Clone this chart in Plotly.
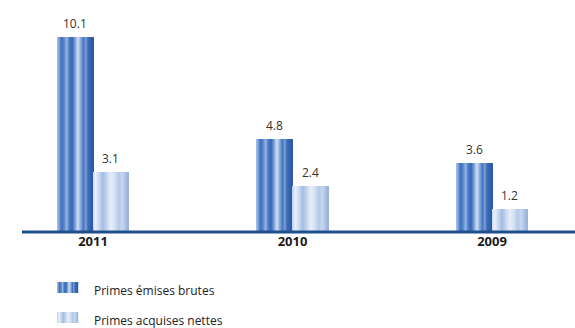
import plotly.graph_objects as go

# Data
years = ["2011", "2010", "2009"]
primes_emises_brutes = [10.1, 4.8, 3.6]
primes_acquises_nettes = [3.1, 2.4, 1.2]
series_names = ["Primes émises brutes", "Primes acquises nettes"]

# Horizontal colour profiles (position across bar, colour) for the fluted bars
dark_profile = [(0.00, "#a9c3e9"), (0.06, "#7fa3da"), (0.12, "#3d6fbe"), (0.20, "#5b88cb"),
                (0.27, "#98b6e2"), (0.34, "#4a7cc6"), (0.42, "#3566b6"), (0.50, "#7c9fd6"),
                (0.58, "#d2e0f4"), (0.66, "#86a8db"), (0.74, "#4575c0"), (0.80, "#7ea1d6"),
                (0.86, "#3d6cb9"), (1.00, "#2a58a6")]
light_profile = [(0.00, "#bccfec"), (0.10, "#e9f0fa"), (0.20, "#c9d8f0"), (0.30, "#a3bce3"),
                 (0.40, "#c2d4ee"), (0.52, "#e6eef9"), (0.64, "#d3e0f3"), (0.74, "#b5c9e8"),
                 (0.84, "#c8d7ef"), (1.00, "#98b1da")]


def _rgb(h):
    h = h.lstrip("#")
    return [int(h[i:i + 2], 16) for i in (0, 2, 4)]


def sample(profile, t):
    for (p0, c0), (p1, c1) in zip(profile, profile[1:]):
        if p0 <= t <= p1:
            f = (t - p0) / (p1 - p0) if p1 > p0 else 0
            a, b = _rgb(c0), _rgb(c1)
            return "rgb({},{},{})".format(*[round(x + (y - x) * f) for x, y in zip(a, b)])
    return profile[-1][1]


FONT = "Open Sans"
xpos = list(range(len(years)))
bar_w = 0.178                      # width of each series' bar in category units
N_STRIPES = 36
stripe_w = bar_w / N_STRIPES
PX_PER_UNIT = 19.3

fig = go.Figure()

for values, profile, start in [(primes_emises_brutes, dark_profile, -bar_w),
                               (primes_acquises_nettes, light_profile, 0.0)]:
    # solid under-bar so the stripes leave no gaps
    fig.add_trace(go.Bar(
        x=xpos, y=values, width=bar_w, offset=start,
        marker=dict(color=sample(profile, 0.5), line=dict(width=0)),
        showlegend=False, hoverinfo="skip"))
    for k in range(N_STRIPES):
        fig.add_trace(go.Bar(
            x=xpos, y=values, width=stripe_w * 1.3, offset=start + k * stripe_w,
            marker=dict(color=sample(profile, (k + 0.5) / N_STRIPES), line=dict(width=0)),
            showlegend=False, hoverinfo="skip"))
    # value labels centred over each bar
    for p, v in zip(xpos, values):
        fig.add_annotation(x=p + start + bar_w / 2, y=v, xref="x", yref="y",
                           text=f"{v:.1f}", showarrow=False,
                           yanchor="bottom", yshift=3,
                           font=dict(family=FONT, size=12, color="#333333"))

W, H, BASE = 575, 328, 232
def px_x(p): return p / W
def px_y(p): return (BASE - p) / BASE

# Baseline
fig.add_shape(type="line", xref="paper", yref="paper", x0=px_x(22), x1=1, y0=0, y1=0,
              line=dict(color="#1f4e8c", width=3), layer="above")

# Legend: striped swatches and labels
SW = 21
for row, (name, profile) in enumerate(zip(series_names, [dark_profile, light_profile])):
    top = 282 + row * 30
    for k in range(SW):
        fig.add_shape(type="rect", xref="paper", yref="paper",
                      x0=px_x(57 + k), x1=px_x(57 + k + 1.2),
                      y0=px_y(top + 11), y1=px_y(top),
                      fillcolor=sample(profile, (k + 0.5) / SW), line=dict(width=0),
                      layer="above")
    fig.add_annotation(xref="paper", yref="paper", x=px_x(92), y=px_y(top + 8),
                       text=name, showarrow=False, xanchor="left", yanchor="middle",
                       font=dict(family=FONT, size=12, color="#222222"))

fig.update_layout(
    width=W, height=H,
    margin=dict(l=0, r=0, t=0, b=H - BASE),
    paper_bgcolor="white", plot_bgcolor="white",
    barmode="overlay", bargap=0,
    showlegend=False,
    xaxis=dict(range=[-93 / 199.5, (W - 93) / 199.5], tickvals=xpos,
               ticktext=[f"<b>{y}</b>" for y in years],
               tickfont=dict(family=FONT, size=13, color="#1a1a1a"),
               showgrid=False, zeroline=False, showline=False, ticks=""),
    yaxis=dict(range=[0, BASE / PX_PER_UNIT], visible=False, fixedrange=True),
)

fig.write_html("out.html")
